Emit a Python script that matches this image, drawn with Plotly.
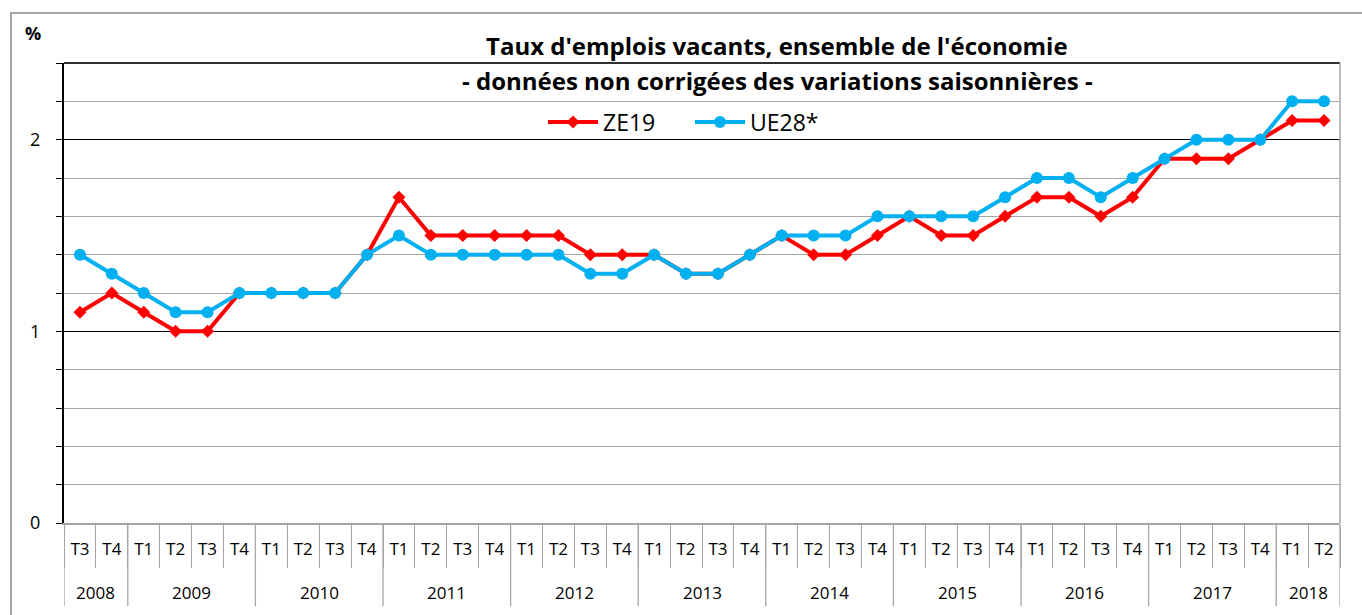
import plotly.graph_objects as go

years = ["2008"] * 2 + [str(y) for y in range(2009, 2018) for _ in range(4)] + ["2018"] * 2
quarters = ["T3", "T4"] + ["T1", "T2", "T3", "T4"] * 9 + ["T1", "T2"]

ze19 = [1.1, 1.2,
        1.1, 1.0, 1.0, 1.2,
        1.2, 1.2, 1.2, 1.4,
        1.7, 1.5, 1.5, 1.5,
        1.5, 1.5, 1.4, 1.4,
        1.4, 1.3, 1.3, 1.4,
        1.5, 1.4, 1.4, 1.5,
        1.6, 1.5, 1.5, 1.6,
        1.7, 1.7, 1.6, 1.7,
        1.9, 1.9, 1.9, 2.0,
        2.1, 2.1]
ue28 = [1.4, 1.3,
        1.2, 1.1, 1.1, 1.2,
        1.2, 1.2, 1.2, 1.4,
        1.5, 1.4, 1.4, 1.4,
        1.4, 1.4, 1.3, 1.3,
        1.4, 1.3, 1.3, 1.4,
        1.5, 1.5, 1.5, 1.6,
        1.6, 1.6, 1.6, 1.7,
        1.8, 1.8, 1.7, 1.8,
        1.9, 2.0, 2.0, 2.0,
        2.2, 2.2]

title_lines = ["Taux d'emplois vacants, ensemble de l'économie",
               "- données non corrigées des variations saisonnières -"]
FONT = "Open Sans, Lato, sans-serif"

W, H = 1362, 615
l, r, t, b = 64, 22, 63, 92
pw, ph = W - l - r, H - t - b
GRAY = "#A6A6A6"

def px_x(p):
    return (p - l) / pw

def px_y(p):
    return 1 - (p - t) / ph

idx = list(range(len(quarters)))

fig = go.Figure()
fig.add_trace(go.Scatter(x=idx, y=ze19, name="ZE19", mode="lines+markers",
                         line=dict(color="#FF0000", width=4),
                         marker=dict(symbol="diamond", size=10, color="#FF0000")))
fig.add_trace(go.Scatter(x=idx, y=ue28, name="UE28*", mode="lines+markers",
                         line=dict(color="#00B0F0", width=4),
                         marker=dict(symbol="circle", size=12, color="#00B0F0")))

# year groups
groups = []
for i, yv in enumerate(years):
    if not groups or groups[-1][0] != yv:
        groups.append([yv, i, i])
    else:
        groups[-1][2] = i

annotations = [
    dict(text="<b>" + title_lines[0] + "</b>", x=px_x(777), y=px_y(45),
         font=dict(size=24)),
    dict(text="<b>" + title_lines[1] + "</b>", x=px_x(777), y=px_y(80),
         font=dict(size=24)),
    dict(text="<b>%</b>", x=px_x(33), y=px_y(33), font=dict(size=18)),
]
for yv, i0, i1 in groups:
    annotations.append(dict(text=yv, x=(i0 + i1) / 2, xref="x", y=px_y(592),
                            font=dict(size=17)))
for a in annotations:
    a.setdefault("xref", "paper")
    a["yref"] = "paper"
    a["showarrow"] = False
    a["xanchor"] = "center"
    a["yanchor"] = "middle"

shapes = []
bounds = [g[1] - 0.5 for g in groups] + [groups[-1][2] + 0.5]
for bx in bounds:
    shapes.append(dict(type="line", xref="x", yref="paper", x0=bx, x1=bx,
                       y0=0, y1=px_y(606), line=dict(color=GRAY, width=1.3)))
shapes += [
    dict(type="line", xref="paper", yref="paper", x0=0, x1=1, y0=1, y1=1,
         line=dict(color="#303030", width=2)),
    dict(type="line", xref="paper", yref="paper", x0=1, x1=1, y0=0, y1=1,
         line=dict(color=GRAY, width=1.5)),
    dict(type="rect", xref="paper", yref="paper",
         x0=px_x(11), x1=px_x(1380), y0=px_y(640), y1=px_y(13),
         line=dict(color=GRAY, width=2), layer="below"),
]

fig.update_layout(
    width=W, height=H,
    margin=dict(l=l, r=r, t=t, b=b),
    paper_bgcolor="white", plot_bgcolor="white",
    font=dict(family=FONT, color="black", size=16),
    showlegend=True,
    legend=dict(orientation="h", x=px_x(543), y=px_y(122), xanchor="left", yanchor="middle",
                font=dict(size=23), bgcolor="rgba(0,0,0,0)", itemwidth=50,
                entrywidth=82, entrywidthmode="pixels"),
    annotations=annotations,
    shapes=shapes,
)

fig.update_xaxes(
    range=[-0.5, len(quarters) - 0.5],
    tickmode="array", tickvals=idx, ticktext=quarters,
    ticks="outside", ticklen=10, tickcolor="rgba(0,0,0,0)",
    minor=dict(tickmode="linear", tick0=-0.5, dtick=1, ticks="outside", ticklen=43,
               tickcolor=GRAY, tickwidth=1.3, showgrid=False),
    showgrid=False, zeroline=False,
    showline=True, linecolor=GRAY, linewidth=1.5,
    tickfont=dict(size=17),
)
fig.update_yaxes(
    range=[0, 2.4],
    tickvals=[0, 1, 2], ticktext=["0", "1", "2"],
    ticks="outside", ticklen=6, tickcolor="black",
    ticklabelstandoff=12,
    showgrid=True, gridcolor="#000000", gridwidth=1,
    minor=dict(dtick=0.2, tick0=0, showgrid=True, gridcolor=GRAY, gridwidth=1.3,
               ticks="outside", ticklen=6, tickcolor="black"),
    showline=True, linecolor="black", linewidth=2,
    zeroline=False,
    tickfont=dict(size=18),
)

fig.write_html("out.html")
